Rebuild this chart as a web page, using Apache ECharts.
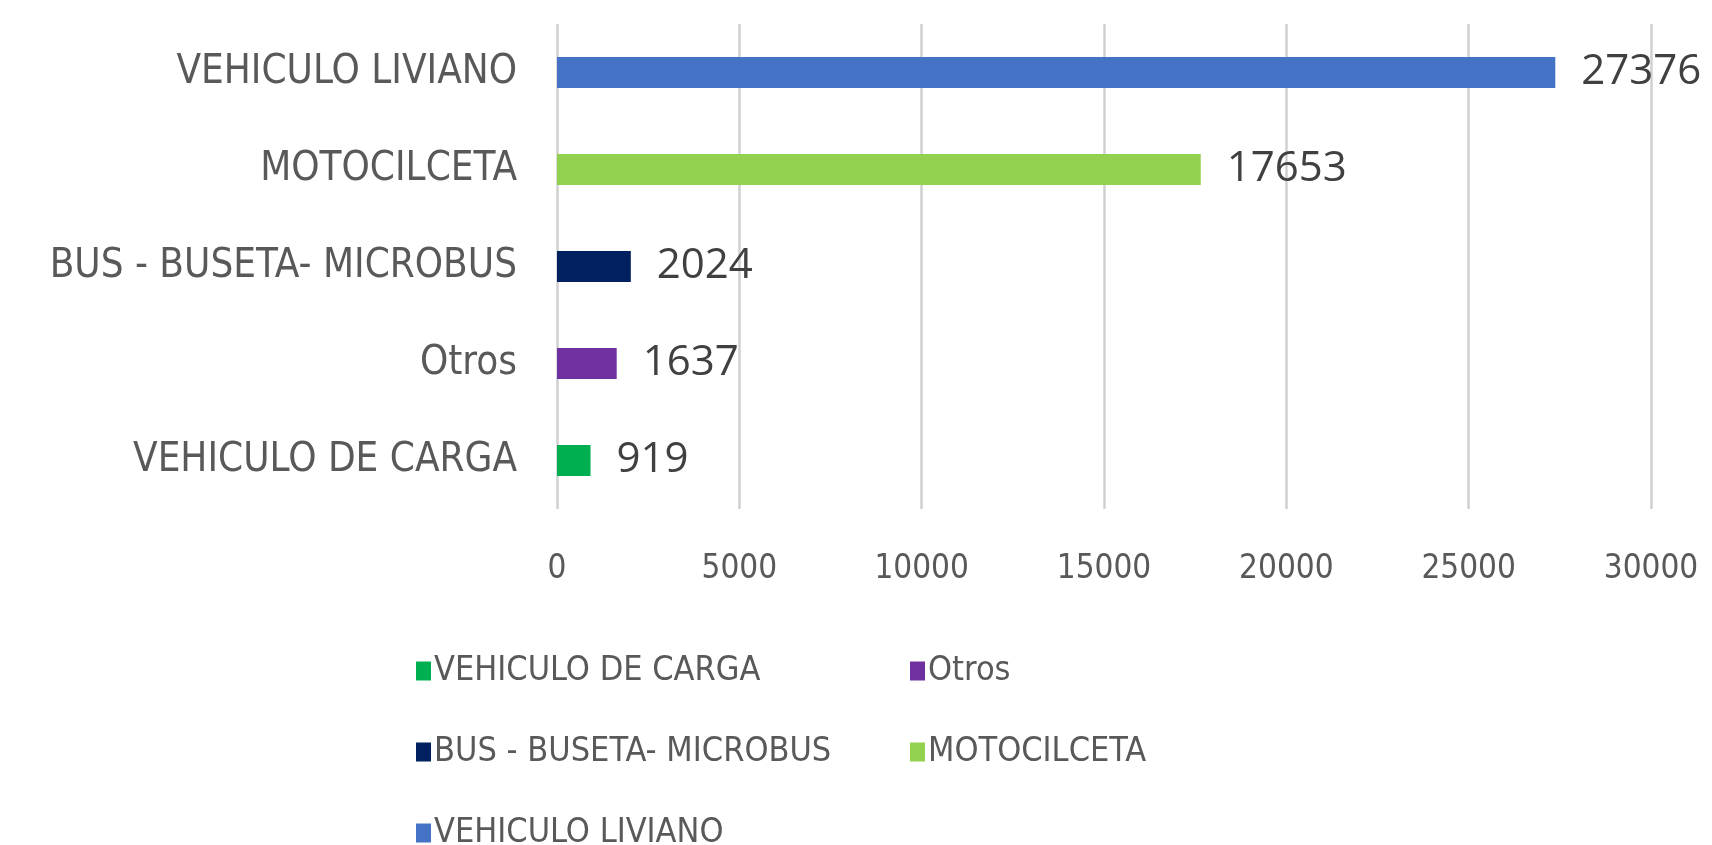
<!DOCTYPE html>
<html>
<head>
<meta charset="utf-8">
<script src="https://cdn.jsdelivr.net/npm/echarts@6/dist/echarts.min.js"></script>
<style>
  html, body { margin: 0; padding: 0; background: #fff; }
  #main { width: 1712px; height: 845px; }
</style>
</head>
<body>
<div id="main"></div>
<script>
// categories bottom -> top (echarts puts the first one at the bottom)
const categories = ['VEHICULO DE CARGA', 'Otros', 'BUS - BUSETA- MICROBUS', 'MOTOCILCETA', 'VEHICULO LIVIANO'];
const values = [919, 1637, 2024, 17653, 27376];
const colors = ['#00B050', '#7030A0', '#002060', '#92D050', '#4472C4'];
const axisTicks = [0, 5000, 10000, 15000, 20000, 25000, 30000];

const narrow = '"DejaVu Sans Condensed", sans-serif';

const chart = echarts.init(document.getElementById('main'));

// one series per category so each gets its own legend entry
const series = categories.map(function (name, i) {
  return {
    name: name,
    type: 'bar',
    stack: 'one',
    barWidth: 31,
    itemStyle: { color: colors[i] },
    label: {
      show: true,
      position: 'right',
      distance: 26,
      color: '#404040',
      fontFamily: '"Open Sans", sans-serif',
      fontSize: 42
    },
    data: categories.map(function (c, j) { return j === i ? values[i] : null; })
  };
});

const legendBase = {
  orient: 'vertical',
  height: 260,
  itemWidth: 15,
  itemHeight: 19,
  itemGap: 41,
  icon: 'rect',
  selectedMode: false,
  textStyle: { fontFamily: narrow, fontSize: 34, color: '#595959', lineHeight: 40, padding: [0, 0, 0, -2] }
};

const option = {
  backgroundColor: '#ffffff',
  animation: false,
  grid: { left: 557, top: 24, width: 1094, height: 485 },
  legend: [
    Object.assign({}, legendBase, { left: 411, top: 646, data: [categories[0], categories[2], categories[4]] }),
    Object.assign({}, legendBase, { left: 905, top: 646, data: [categories[1], categories[3]] })
  ],
  xAxis: {
    type: 'value',
    min: axisTicks[0],
    max: axisTicks[axisTicks.length - 1],
    interval: axisTicks[1] - axisTicks[0],
    axisLine: { show: false },
    axisTick: { show: false },
    splitLine: { lineStyle: { color: '#d0d0d0', width: 2.5 } },
    axisLabel: {
      margin: 44,
      color: '#595959',
      fontFamily: narrow,
      fontSize: 33,
      formatter: function (v) { return String(v); }
    }
  },
  yAxis: {
    type: 'category',
    data: categories,
    axisLine: { show: false },
    axisTick: { show: false },
    axisLabel: { margin: 40, color: '#595959', fontFamily: narrow, fontSize: 40 }
  },
  series: series
};

chart.setOption(option);
</script>
</body>
</html>
